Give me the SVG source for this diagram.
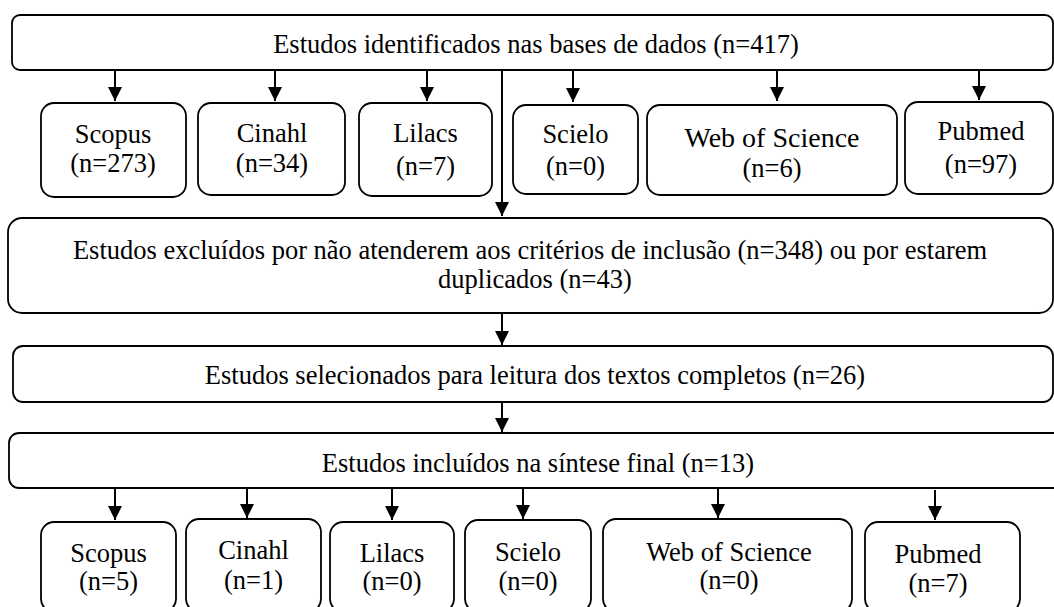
<svg xmlns="http://www.w3.org/2000/svg" width="1054" height="607" viewBox="0 0 1054 607">
<defs>
<style>
rect{fill:#fff;stroke:#000;stroke-width:1.8}
text{font-family:"Liberation Serif","Times New Roman",serif;font-size:26.5px;fill:#000;text-anchor:middle}
.c line{stroke:#000;stroke-width:2}
.big{font-size:28px}
</style>
<marker id="ah" viewBox="0 0 14 14" refX="14" refY="7" markerWidth="14" markerHeight="14" markerUnits="userSpaceOnUse" orient="auto">
<path d="M0,0 L14,7 L0,14 Z" fill="#000"/>
</marker>
</defs>
<g class="c" id="connectors">
<line x1="115" y1="71" x2="115" y2="101" marker-end="url(#ah)"/>
<line x1="275" y1="71" x2="275" y2="101" marker-end="url(#ah)"/>
<line x1="427" y1="71" x2="427" y2="101" marker-end="url(#ah)"/>
<line x1="573" y1="71" x2="573" y2="102" marker-end="url(#ah)"/>
<line x1="777" y1="71" x2="777" y2="101" marker-end="url(#ah)"/>
<line x1="979" y1="71" x2="979" y2="100" marker-end="url(#ah)"/>
<line x1="502" y1="71" x2="502" y2="216" marker-end="url(#ah)"/>
<line x1="502" y1="314" x2="502" y2="345" marker-end="url(#ah)"/>
<line x1="502" y1="403" x2="502" y2="432" marker-end="url(#ah)"/>
<line x1="115" y1="489" x2="115" y2="520" marker-end="url(#ah)"/>
<line x1="247" y1="489" x2="247" y2="518" marker-end="url(#ah)"/>
<line x1="392" y1="489" x2="392" y2="520" marker-end="url(#ah)"/>
<line x1="523" y1="489" x2="523" y2="519" marker-end="url(#ah)"/>
<line x1="718" y1="489" x2="718" y2="518" marker-end="url(#ah)"/>
<line x1="935" y1="490" x2="935" y2="520" marker-end="url(#ah)"/>
</g>
<g id="n-identificados"><rect x="12" y="15" width="1041" height="55" rx="8"/><text x="536" y="53">Estudos identificados nas bases de dados (n=417)</text></g>
<g id="n-scopus1"><rect x="41" y="103" width="145" height="94" rx="13"/><text x="113" y="143">Scopus</text><text x="113" y="172">(n=273)</text></g>
<g id="n-cinahl1"><rect x="198" y="103" width="147" height="92" rx="13"/><text x="272" y="142">Cinahl</text><text x="272" y="172">(n=34)</text></g>
<g id="n-lilacs1"><rect x="359" y="103" width="133" height="93" rx="13"/><text x="425.5" y="142">Lilacs</text><text x="425.5" y="175">(n=7)</text></g>
<g id="n-scielo1"><rect x="513" y="105" width="125" height="89" rx="13"/><text x="575.5" y="143">Scielo</text><text x="575.5" y="175">(n=0)</text></g>
<g id="n-wos1"><rect x="647" y="105" width="250" height="90" rx="13"/><text class="big" x="772" y="147">Web of Science</text><text x="772" y="177">(n=6)</text></g>
<g id="n-pubmed1"><rect x="905" y="102" width="148" height="92" rx="13"/><text x="981" y="140">Pubmed</text><text x="981" y="173">(n=97)</text></g>
<g id="n-excluidos"><rect x="8" y="218" width="1045" height="95" rx="14"/><text x="530" y="259">Estudos excluídos por não atenderem aos critérios de inclusão (n=348) ou por estarem</text><text x="535" y="288">duplicados (n=43)</text></g>
<g id="n-selecionados"><rect x="13" y="346" width="1040" height="56" rx="10"/><text x="535" y="384">Estudos selecionados para leitura dos textos completos (n=26)</text></g>
<g id="n-incluidos"><rect x="9" y="433" width="1055" height="55" rx="10"/><text x="538" y="472">Estudos incluídos na síntese final (n=13)</text></g>
<g id="n-scopus2"><rect x="41" y="522" width="135" height="90" rx="13"/><text x="108.5" y="562">Scopus</text><text x="108.5" y="590">(n=5)</text></g>
<g id="n-cinahl2"><rect x="186" y="519" width="135" height="93" rx="13"/><text x="253.5" y="559">Cinahl</text><text x="253.5" y="589">(n=1)</text></g>
<g id="n-lilacs2"><rect x="330" y="522" width="124" height="90" rx="13"/><text x="392" y="562">Lilacs</text><text x="392" y="590">(n=0)</text></g>
<g id="n-scielo2"><rect x="465" y="520" width="126" height="92" rx="13"/><text x="528" y="561">Scielo</text><text x="528" y="590">(n=0)</text></g>
<g id="n-wos2"><rect x="603" y="519" width="249" height="93" rx="13"/><text x="729" y="561">Web of Science</text><text x="729" y="589">(n=0)</text></g>
<g id="n-pubmed2"><rect x="865" y="522" width="155" height="90" rx="13"/><text x="938" y="563">Pubmed</text><text x="938" y="592">(n=7)</text></g>
</svg>
